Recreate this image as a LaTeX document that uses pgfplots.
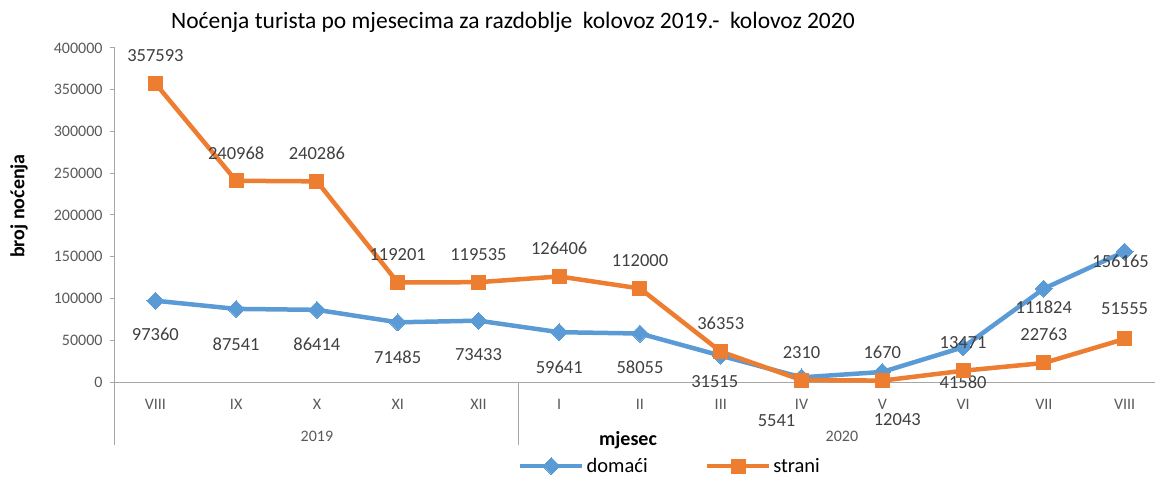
\documentclass[border=0pt]{standalone}
\usepackage{pgfplots}
\pgfplotsset{compat=1.18}
\usepackage{pgfplotstable}
\usepackage{fontspec}
\setmainfont{Carlito}
\definecolor{dom}{HTML}{5B9BD5}
\definecolor{str}{HTML}{ED7D31}
\definecolor{axgray}{HTML}{A6A6A6}
\definecolor{tickgray}{HTML}{595959}
\definecolor{labgray}{HTML}{404040}

\pgfplotstableread{
x y lab dx dy
0 97360 97360 0 -34
1 87541 87541 0 -35
2 86414 86414 0 -34
3 71485 71485 0 -35
4 73433 73433 0 -34
5 59641 59641 0 -35
6 58055 58055 0 -34
7 31515 31515 -6 -26
8 5541 5541 -25 -43
9 12043 12043 15 -48
10 41580 41580 0 -35
11 111824 111824 0 -19
12 156165 156165 -4 -10
}\domaci

\pgfplotstableread{
x y lab dx dy
0 357593 357593 0 28
1 240968 240968 0 28
2 240286 240286 0 28
3 119201 119201 0 28
4 119535 119535 0 28
5 126406 126406 0 28
6 112000 112000 0 28
7 36353 36353 0 28
8 2310 2310 0 28
9 1670 1670 0 28
10 13471 13471 0 28
11 22763 22763 0 29
12 51555 51555 0 30
}\strani

\begin{document}
\begin{tikzpicture}
\begin{axis}[
  name=ax, at={(0,0)}, anchor=south west,
  scale only axis, width=1050pt, height=334pt,
  xmin=-0.5, xmax=12.5, ymin=0, ymax=400000,
  clip=false,
  axis x line*=bottom, axis y line*=left,
  axis line style={-, draw=axgray, line width=1pt},
  xtick={0,...,12},
  xticklabels={VIII,IX,X,XI,XII,I,II,III,IV,V,VI,VII,VIII},
  major x tick style={draw=none},
  ytick={0,50000,...,400000},
  scaled y ticks=false,
  /pgf/number format/.cd, fixed, set thousands separator={}, assume math mode=true, /pgfplots/.cd,
  tick align=outside, major tick length=5pt,
  major y tick style={draw=axgray, line width=1pt},
  yticklabel style={font=\fontsize{16}{17}\selectfont, text=tickgray, xshift=-4pt},
  xticklabel style={font=\fontsize{16}{17}\selectfont, text=tickgray, yshift=-9pt},
  legend columns=2,
  legend style={at={(axis description cs:0.5286,-0.2515)}, anchor=center, draw=none, fill=none,
    font=\fontsize{20.5}{22}\selectfont, inner sep=0pt,
    /tikz/every even column/.append style={column sep=55pt}},
  legend image code/.code={\draw[mark repeat=2,mark phase=2,#1] plot coordinates {(0pt,0pt) (31pt,0pt) (62pt,0pt)};},
  nodes near coords,
  point meta=explicit symbolic,
  visualization depends on={\thisrow{dx} \as \labdx},
  visualization depends on={\thisrow{dy} \as \labdy},
  every node near coord/.append style={anchor=center, xshift=\labdx pt, yshift=\labdy pt,
     font=\fontsize{18.5}{20}\selectfont, text=labgray},
]
\addplot[dom, line width=4.5pt, mark=square*, mark size=6pt, mark options={rotate=45, solid, fill=dom, draw=dom, line width=0pt}]
  table[x=x, y=y, meta=lab] {\domaci};
\addlegendentry{domaći}
\addplot[str, line width=4.5pt, mark=square*, mark size=7pt, mark options={solid, fill=str, draw=str, line width=0pt}]
  table[x=x, y=y, meta=lab] {\strani};
\addlegendentry{strani}

\draw[axgray, line width=1pt] (axis cs:-0.5,0) -- ([yshift=-63pt]axis cs:-0.5,0);
\draw[axgray, line width=1pt] (axis cs:4.5,0) -- ([yshift=-63pt]axis cs:4.5,0);
\draw[axgray, line width=1pt] (axis cs:12.5,0) -- ([yshift=-63pt]axis cs:12.5,0);
\node[font=\fontsize{16}{17}\selectfont, text=tickgray] at ([yshift=-54pt]axis cs:2,0) {2019};
\node[font=\fontsize{16}{17}\selectfont, text=tickgray] at ([yshift=-54pt]axis cs:8.5,0) {2020};
\node[font=\bfseries\fontsize{20}{22}\selectfont] at (axis description cs:0.4886,-0.1737) {mjesec};
\node[font=\bfseries\fontsize{20}{22}\selectfont, rotate=90] at ([xshift=-96pt]axis description cs:0,0.527) {broj noćenja};
\node[font=\fontsize{23.5}{25}\selectfont] at (axis description cs:0.379,1.078) {Noćenja turista po mjesecima za razdoblje\ \ kolovoz 2019.-\ \ kolovoz 2020};
\end{axis}
\pgfresetboundingbox
\path[use as bounding box] (ax.south west) ++(-115pt,-94pt) rectangle ++(1155pt,476pt);
\end{tikzpicture}
\end{document}
